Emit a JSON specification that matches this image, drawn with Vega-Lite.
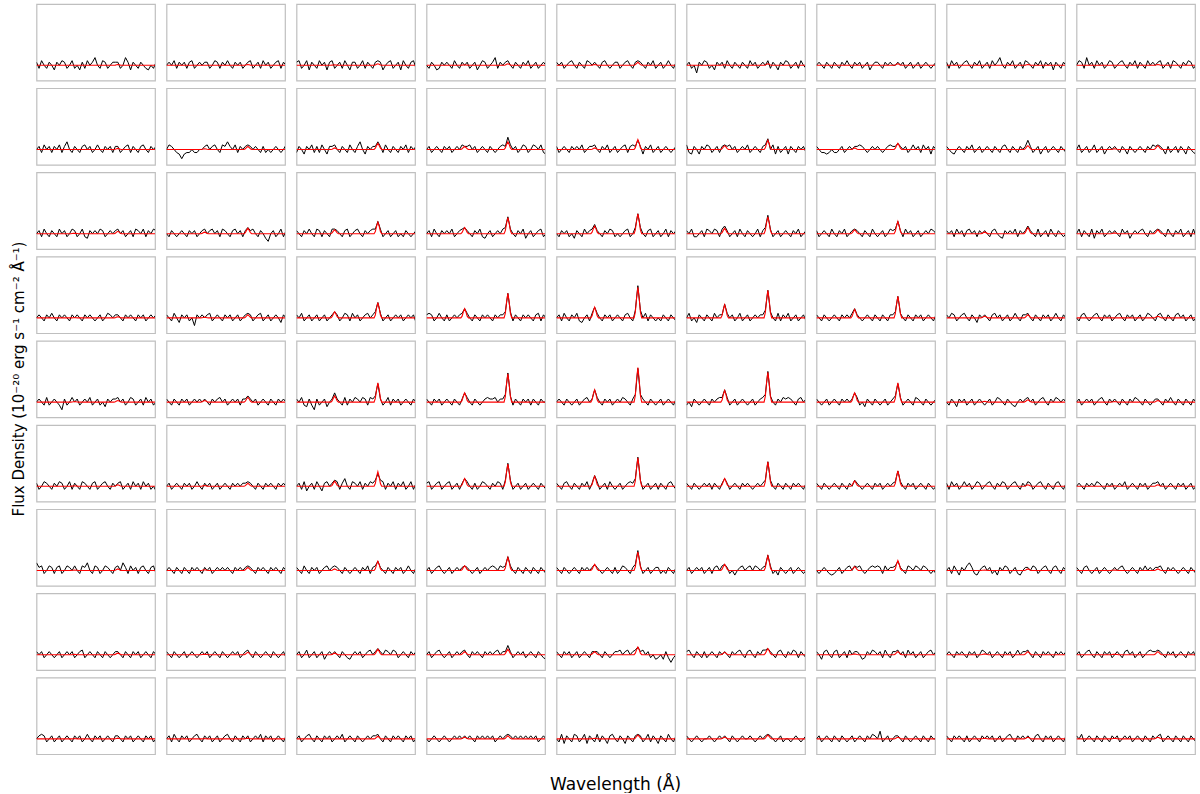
{
"$schema":"https://vega.github.io/schema/vega-lite/v6.json",
"background":"white",
"bounds":"flush",
"padding":{"left":10.5,"top":3,"right":0,"bottom":0},
"datasets":{
"grid":[{"k":1,"x":[0,1,2,3,4,5,6,7,8,9,10,11,12,13,14,15,16,17,18,19,20,21,22,23,24,25,26,27,28,29,30,31,32,33,34,35,36,37,38,39,40,41,42,43,44,45,46,47],"mx":[0,13.5,14,14.5,15,15.5,16,16.5,30.5,31,31.5,32,32.5,33,33.5,47]}],
"spectra":[
{"k":1,"r":1,"c":1,"y":[2,-2,3,0,-2,2,0,-3,2,0,3,2,-2,0,3,-2,0,-3,2,-2,3,0,2,5,0,-2,3,2,-2,0,2,2,2,-2,0,5,2,-3,2,0,-2,2,0,-2,-3,0,-2,2],"my":[0,0,0,0,0,0,0,0,0,0.1,0.3,0.5,0.3,0.1,0,0]},
{"k":1,"r":1,"c":2,"y":[0,2,0,3,-2,2,0,2,-2,2,3,-2,0,2,0,2,2,-2,0,3,2,-2,2,0,3,0,-2,2,0,2,-2,0,2,3,-2,0,2,-2,3,0,2,-2,0,2,3,-2,2,0],"my":[0,0,0,0,0,0,0,0,0,0.1,0.3,0.5,0.3,0.1,0,0]},
{"k":1,"r":1,"c":3,"y":[2,3,-2,0,3,-3,2,0,-2,3,0,2,-3,2,3,-2,0,2,-2,3,0,-3,2,2,-2,0,3,-2,2,0,-2,2,3,2,-3,0,2,3,-2,0,2,-3,3,0,-2,2,3,-2],"my":[0,0,0.1,0.2,0.3,0.2,0.1,0,0,0.2,0.7,1,0.7,0.2,0,0]},
{"k":1,"r":1,"c":4,"y":[0,-2,2,0,-3,-2,2,0,2,0,-2,3,0,-2,2,0,2,-2,0,2,-3,0,3,2,-2,0,2,5,-2,2,0,2,3,0,-2,2,0,-2,2,0,3,-2,0,2,-2,0,2,0],"my":[0,0,0.1,0.2,0.3,0.2,0.1,0,0,0.2,0.7,1,0.7,0.2,0,0]},
{"k":1,"r":1,"c":5,"y":[2,0,2,-2,0,2,3,0,-2,2,0,-2,3,2,0,2,0,-2,2,3,0,-2,0,2,2,-2,0,2,3,0,-2,2,3,2,0,-2,2,0,3,-2,0,2,-2,0,3,0,-2,2],"my":[0,0,0.1,0.3,0.5,0.3,0.1,0,0,0.4,1.3,2,1.3,0.4,0,0]},
{"k":1,"r":1,"c":6,"y":[0,2,-2,0,-5,2,0,3,2,-2,0,-3,2,0,2,-2,3,0,-2,2,0,-2,2,0,-2,3,0,2,-2,0,2,0,3,-2,2,0,-3,2,0,3,2,-2,0,2,-2,3,0,-2],"my":[0,0,0.1,0.2,0.3,0.2,0.1,0,0,0.2,0.7,1,0.7,0.2,0,0]},
{"k":1,"r":1,"c":7,"y":[0,2,0,-2,2,0,-2,2,0,-2,2,0,3,0,-2,2,0,2,-2,0,2,-3,0,2,2,0,-2,2,0,2,0,0,2,0,2,-2,0,2,-2,0,2,-2,0,2,0,-2,0,2],"my":[0,0,0,0,0,0,0,0,0,0.2,0.7,1,0.7,0.2,0,0]},
{"k":1,"r":1,"c":8,"y":[2,-2,3,0,2,-2,0,2,3,0,-2,2,0,3,-2,0,2,-2,3,0,2,5,0,-2,2,0,3,-2,0,2,-2,3,2,0,-2,2,0,3,-2,2,0,2,-3,2,0,-2,2,0],"my":[0,0,0,0,0,0,0,0,0,0.1,0.3,0.5,0.3,0.1,0,0]},
{"k":1,"r":1,"c":9,"y":[0,3,2,-2,5,0,2,-2,3,0,2,-2,0,3,2,-2,0,2,3,0,-2,2,0,3,-2,2,0,-2,3,0,2,0,2,3,-2,0,2,-2,3,2,0,-2,2,0,3,2,-2,0],"my":[0,0,0,0,0,0,0,0,0,0.1,0.3,0.5,0.3,0.1,0,0]},
{"k":1,"r":2,"c":1,"y":[0,2,-2,3,0,2,-2,2,0,3,-2,2,5,0,-2,2,0,-2,2,3,0,2,-2,0,3,0,-2,2,0,2,-2,2,2,-2,0,2,3,-2,2,0,-2,2,3,0,-2,2,0,2],"my":[0,0,0,0,0,0,0,0,0,0.1,0.5,0.7,0.5,0.1,0,0]},
{"k":1,"r":2,"c":2,"y":[0,3,2,0,-2,-3,-6,-3,-2,-2,0,-2,-2,0,0,2,3,0,2,3,0,-2,3,2,5,2,0,3,-2,2,0,2,3,2,0,2,0,-2,2,-2,0,-2,0,2,0,-2,0,3],"my":[0,0,0.1,0.3,0.5,0.3,0.1,0,0,0.4,1.3,2,1.3,0.4,0,0]},
{"k":1,"r":2,"c":3,"y":[-2,2,0,-3,2,0,3,-2,2,-2,3,0,-3,2,2,3,0,-2,2,0,-2,3,0,-2,2,5,0,-3,2,0,2,2,5,2,-2,3,0,-2,2,0,-2,2,0,3,-2,2,0,2],"my":[0,0,0.2,0.7,1,0.7,0.2,0,0,0.8,2.6,4,2.6,0.8,0,0]},
{"k":1,"r":2,"c":4,"y":[0,2,-2,0,2,0,-2,2,0,2,-2,0,2,0,3,2,2,3,0,2,-2,0,2,0,-2,2,0,-2,0,2,3,2,8,3,0,2,-2,0,3,2,-2,0,3,2,0,3,-2,-3],"my":[0,0,0.4,1.3,2,1.3,0.4,0,0,1,3.3,5,3.3,1,0,0]},
{"k":1,"r":2,"c":5,"y":[2,-2,0,2,0,-2,2,0,2,0,3,-2,0,2,2,3,0,-2,2,0,3,-2,0,2,-2,0,2,3,-2,2,3,2,6,2,-3,2,0,3,-2,0,2,-2,0,2,0,-2,0,2],"my":[0,0,0.2,0.7,1,0.7,0.2,0,0,1.2,4.3,6.5,4.3,1.2,0,0]},
{"k":1,"r":2,"c":6,"y":[3,-2,-3,2,0,-3,2,0,3,2,-2,0,2,-2,2,3,2,3,0,2,-2,0,2,0,3,-2,0,2,0,-2,2,3,7,0,3,-3,2,-2,0,2,-3,2,0,-2,2,0,2,-2],"my":[0,0,0.5,1.7,2.5,1.7,0.5,0,0,1.1,4,6,4,1.1,0,0]},
{"k":1,"r":2,"c":7,"y":[2,0,-2,-2,-3,-2,0,-2,-2,0,2,-2,0,2,0,2,2,3,2,0,-2,0,2,0,2,0,-2,0,2,3,2,2,4,2,0,2,-2,0,3,0,2,-2,3,0,2,-3,2,0],"my":[0,0,0.2,0.7,1,0.7,0.2,0,0,0.8,2.6,4,2.6,0.8,0,0]},
{"k":1,"r":2,"c":8,"y":[2,0,-2,-3,0,2,0,-2,2,0,3,-2,0,2,-2,0,2,0,-2,2,0,-2,2,3,0,-2,2,0,-2,2,0,2,6,2,-2,0,2,-3,0,2,-2,0,2,0,-2,2,0,-2],"my":[0,0,0,0,0,0,0,0,0,0.5,1.7,2.5,1.7,0.5,0,0]},
{"k":1,"r":2,"c":9,"y":[0,3,-2,0,2,-2,0,3,-2,0,2,-3,0,2,0,2,0,-2,2,0,-3,2,0,-2,0,2,0,-2,2,0,3,2,3,2,0,-3,2,-2,0,2,-2,2,0,-3,2,0,-2,-3],"my":[0,0,0.1,0.3,0.5,0.3,0.1,0,0,0.5,1.7,2.5,1.7,0.5,0,0]},
{"k":1,"r":3,"c":1,"y":[0,2,-2,3,0,-2,2,0,-2,3,0,2,-2,0,3,2,-2,0,3,-2,-3,2,0,2,0,3,2,-2,0,2,0,2,3,0,2,-2,0,2,-2,3,2,0,3,-2,2,0,3,2],"my":[0,0,0.1,0.2,0.3,0.2,0.1,0,0,0.3,1,1.5,1,0.3,0,0]},
{"k":1,"r":3,"c":2,"y":[0,-2,2,0,-2,0,2,0,-2,2,0,2,-2,0,2,3,0,2,3,0,2,-2,3,2,0,-2,2,3,0,2,-2,2,4,2,3,0,-2,2,0,-3,-5,0,2,-2,0,3,-2,2],"my":[0,0,0.2,0.7,1,0.7,0.2,0,0,0.7,2.3,3.5,2.3,0.7,0,0]},
{"k":1,"r":3,"c":3,"y":[2,0,-2,2,0,3,0,-2,3,2,-2,2,0,-2,3,3,2,0,-2,2,3,-2,0,2,3,0,-2,2,0,2,3,3,8,3,-2,0,2,-2,0,2,-2,0,-2,2,0,-2,0,2],"my":[0,0,0.5,1.7,2.5,1.7,0.5,0,0,1.4,5,7.5,5,1.4,0,0]},
{"k":1,"r":3,"c":4,"y":[0,2,-2,3,0,-2,2,0,2,0,3,-2,0,2,3,4,2,0,-2,2,0,3,-2,-3,0,2,-2,0,2,0,3,4,11,3,0,-2,2,0,3,-3,0,2,-2,0,2,3,-2,0],"my":[0,0,0.8,2.6,4,2.6,0.8,0,0,2,6.9,10.5,6.9,2,0,0]},
{"k":1,"r":3,"c":5,"y":[0,-2,2,0,2,-2,0,-3,2,0,-2,3,0,2,3,6,2,0,-2,2,0,3,2,-2,0,-2,0,2,3,-2,0,4,13,4,0,-2,2,3,-2,0,2,-2,0,3,-2,2,0,2],"my":[0,0,1,3.3,5,3.3,1,0,0,2.5,8.6,13,8.6,2.5,0,0]},
{"k":1,"r":3,"c":6,"y":[2,0,3,-2,-2,0,2,-2,3,2,0,3,2,-2,3,5,2,-2,0,2,-2,3,0,-2,2,0,-2,0,3,-2,2,4,12,3,-2,0,2,-2,0,2,0,-2,2,0,3,-2,0,2],"my":[0,0,0.7,2.3,3.5,2.3,0.7,0,0,2.1,7.3,11,7.3,2.1,0,0]},
{"k":1,"r":3,"c":7,"y":[2,-2,0,2,0,-2,3,0,-2,2,0,3,-2,0,2,3,2,0,-2,2,0,-2,3,0,-2,0,2,-2,0,3,2,3,8,2,-2,3,0,2,-2,0,2,-2,0,2,0,3,2,0],"my":[0,0,0.5,1.7,2.5,1.7,0.5,0,0,1.5,5.3,8,5.3,1.5,0,0]},
{"k":1,"r":3,"c":8,"y":[2,0,2,-2,3,0,2,-2,2,3,0,2,-2,2,0,2,0,-2,2,3,0,-2,-3,2,0,2,0,3,-2,2,0,2,5,2,0,-2,3,-2,0,2,-2,3,0,-2,2,0,-2,0],"my":[0,0,0.2,0.7,1,0.7,0.2,0,0,0.8,2.6,4,2.6,0.8,0,0]},
{"k":1,"r":3,"c":9,"y":[0,3,-2,2,0,-2,3,-3,2,0,3,-2,0,2,0,2,0,-2,3,0,2,-3,0,2,0,2,3,0,-2,2,0,2,3,2,0,-2,3,0,-2,2,0,3,-2,0,2,-2,3,-2],"my":[0,0,0.1,0.3,0.5,0.3,0.1,0,0,0.5,1.7,2.5,1.7,0.5,0,0]},
{"k":1,"r":4,"c":1,"y":[0,2,0,-2,2,0,3,0,-2,2,0,2,0,-2,2,0,2,0,-2,2,0,2,0,-2,0,2,-2,0,3,2,0,2,2,0,-2,2,0,2,0,-2,2,0,2,-2,0,2,0,2],"my":[0,0,0,0.1,0.2,0.1,0,0,0,0.1,0.5,0.7,0.5,0.1,0,0]},
{"k":1,"r":4,"c":2,"y":[2,0,-2,3,0,-3,2,0,2,-2,0,-5,2,0,2,0,2,3,-2,0,2,0,-2,2,0,2,-2,0,2,-2,0,2,3,2,-2,0,2,3,-2,0,2,-2,0,2,0,-3,2,0],"my":[0,0,0.1,0.3,0.5,0.3,0.1,0,0,0.4,1.3,2,1.3,0.4,0,0]},
{"k":1,"r":4,"c":3,"y":[2,0,3,-2,0,2,-2,0,2,-2,0,2,-2,0,2,4,2,-2,0,3,2,-2,3,0,2,-2,0,2,3,0,2,4,10,3,-2,0,2,-2,0,2,0,2,-2,0,2,0,2,-3],"my":[0,0,0.8,2.6,4,2.6,0.8,0,0,1.9,6.6,10,6.6,1.9,0,0]},
{"k":1,"r":4,"c":4,"y":[2,3,2,-2,0,3,0,-2,2,-2,0,2,0,2,3,6,3,0,-2,2,0,-2,2,0,2,0,-2,2,0,2,2,4,16,4,-2,2,0,-2,2,0,2,0,-2,2,3,-2,2,0],"my":[0,0,1.1,4,6,4,1.1,0,0,3,10.6,16,10.6,3,0,0]},
{"k":1,"r":4,"c":5,"y":[0,2,-2,3,0,-2,2,0,3,-2,-3,0,2,-2,3,7,3,0,-2,2,0,2,-2,0,2,0,-2,2,3,0,-2,5,21,5,0,3,-2,2,0,-2,0,-2,2,0,-2,2,0,-2],"my":[0,0,1.3,4.6,7,4.6,1.3,0,0,3.8,13.2,20,13.2,3.8,0,0]},
{"k":1,"r":4,"c":6,"y":[0,3,-2,0,-3,2,0,-2,2,0,-2,3,0,2,2,9,3,0,2,-2,0,3,-2,0,2,-2,0,2,0,2,2,5,18,4,0,-2,3,-2,2,0,3,-2,0,2,-2,0,2,-2],"my":[0,0,1.6,5.6,8.5,5.6,1.6,0,0,3.4,11.9,18,11.9,3.4,0,0]},
{"k":1,"r":4,"c":7,"y":[2,0,-2,2,0,-2,0,2,0,-2,2,0,2,0,3,6,2,0,-2,0,2,0,-2,2,0,-2,2,0,-2,2,2,4,14,3,0,-2,2,0,-2,2,0,2,-2,0,2,0,-2,2],"my":[0,0,1,3.6,5.5,3.6,1,0,0,2.7,9.2,14,9.2,2.7,0,0]},
{"k":1,"r":4,"c":8,"y":[2,0,3,2,-2,0,2,3,0,-2,2,0,-3,2,0,2,0,-2,2,3,0,2,-2,0,2,-2,0,3,0,-2,2,2,3,0,-2,2,0,-2,2,0,2,-2,0,3,0,-2,2,0],"my":[0,0,0.2,0.7,1,0.7,0.2,0,0,0.4,1.3,2,1.3,0.4,0,0]},
{"k":1,"r":4,"c":9,"y":[0,-2,2,3,0,-2,0,2,3,0,-2,2,0,2,-2,0,2,3,0,-2,2,0,2,-2,0,2,-2,0,3,2,0,-2,2,3,0,-2,2,0,-2,2,3,0,2,-2,0,2,-2,0],"my":[0,0,0,0,0,0,0,0,0,0.2,0.7,1,0.7,0.2,0,0]},
{"k":1,"r":5,"c":1,"y":[0,2,0,-2,3,-2,0,2,0,-2,-5,2,-2,0,3,0,2,-2,0,2,0,3,-2,0,2,-2,0,-3,2,0,2,2,3,0,2,-2,0,3,2,-2,0,2,-2,3,0,2,-2,0],"my":[0,0,0.1,0.2,0.3,0.2,0.1,0,0,0.2,0.7,1,0.7,0.2,0,0]},
{"k":1,"r":5,"c":2,"y":[2,0,-2,2,0,-2,2,0,2,-2,0,2,0,2,0,2,0,-2,2,0,2,3,0,2,-2,0,2,0,2,-2,2,2,4,2,0,2,-2,0,2,0,-2,2,0,-2,2,0,2,0],"my":[0,0,0.2,0.7,1,0.7,0.2,0,0,0.6,2,3,2,0.6,0,0]},
{"k":1,"r":5,"c":3,"y":[2,0,3,-2,-3,2,-2,-5,2,-2,0,2,-3,0,2,6,2,0,-2,3,-2,2,0,3,2,0,3,2,-2,3,2,4,12,2,-2,0,3,-2,2,0,2,-2,0,2,0,-2,2,0],"my":[0,0,0.8,2.6,4,2.6,0.8,0,0,2.4,8.3,12.5,8.3,2.4,0,0]},
{"k":1,"r":5,"c":4,"y":[2,0,-2,2,0,2,-2,0,2,0,-2,2,0,-2,2,6,3,0,-2,2,0,-2,0,2,3,2,2,3,0,2,2,5,19,4,-2,2,0,-2,2,0,2,-2,2,0,-2,2,0,0],"my":[0,0,1.1,4,6,4,1.1,0,0,3.5,12.2,18.5,12.2,3.5,0,0]},
{"k":1,"r":5,"c":5,"y":[0,2,0,-2,2,0,-2,0,2,-2,0,2,3,0,2,8,3,0,-2,2,0,2,-2,0,2,0,3,2,0,-2,2,5,22,5,2,0,-2,2,0,-2,0,2,-2,0,2,0,-2,2],"my":[0,0,1.5,5.3,8,5.3,1.5,0,0,4.3,14.9,22.5,14.9,4.3,0,0]},
{"k":1,"r":5,"c":6,"y":[-2,0,-3,2,0,-2,0,2,0,-2,2,0,2,3,3,8,3,-2,0,2,-2,0,2,0,-2,0,2,-2,0,2,3,5,20,4,0,-2,2,0,3,2,3,2,0,-2,2,3,0,2],"my":[0,0,1.4,5,7.5,5,1.4,0,0,3.7,12.9,19.5,12.9,3.7,0,0]},
{"k":1,"r":5,"c":7,"y":[2,0,-2,0,2,-2,0,2,0,-2,2,0,2,0,2,6,3,-2,0,-3,2,0,-2,2,0,-2,0,2,-2,0,2,4,12,3,-2,0,2,0,-2,3,2,0,-2,2,0,-2,0,2],"my":[0,0,1.1,4,6,4,1.1,0,0,2.4,8.3,12.5,8.3,2.4,0,0]},
{"k":1,"r":5,"c":8,"y":[0,-2,2,0,-3,2,0,2,-2,0,2,-2,0,2,0,-2,0,2,-2,0,3,2,0,-2,2,0,-2,-3,0,2,0,2,3,0,2,-2,0,2,3,0,-2,2,0,3,2,0,2,0],"my":[0,0,0.1,0.3,0.5,0.3,0.1,0,0,0.3,1,1.5,1,0.3,0,0]},
{"k":1,"r":5,"c":9,"y":[0,2,-2,0,2,0,2,-2,0,2,3,0,-2,2,0,2,0,-2,2,0,-2,2,0,3,2,0,-2,2,0,-2,0,2,2,0,-2,2,0,3,0,-2,2,0,-2,2,0,-2,2,0],"my":[0,0,0.1,0.2,0.3,0.2,0.1,0,0,0.2,0.7,1,0.7,0.2,0,0]},
{"k":1,"r":6,"c":1,"y":[2,-2,0,3,2,0,-2,2,0,3,2,-2,0,3,-2,2,0,-2,3,2,0,-2,2,3,-2,0,2,3,0,-2,2,0,2,3,-2,0,2,-2,3,0,2,-2,3,0,2,-2,0,-3],"my":[0,0,0.1,0.2,0.3,0.2,0.1,0,0,0.2,0.7,1,0.7,0.2,0,0]},
{"k":1,"r":6,"c":2,"y":[0,2,-2,0,2,0,-2,2,0,2,-2,0,3,0,-2,2,0,2,-2,0,2,-2,0,2,0,-2,2,0,2,0,2,2,3,2,0,-2,2,0,-2,2,0,2,0,-2,2,0,2,0],"my":[0,0,0.1,0.3,0.5,0.3,0.1,0,0,0.4,1.3,2,1.3,0.4,0,0]},
{"k":1,"r":6,"c":3,"y":[0,2,-2,3,-3,0,2,-2,3,0,-3,2,3,0,2,4,3,-2,2,5,0,-2,3,2,0,3,-2,2,0,3,2,4,8,4,3,-2,2,0,3,-2,2,0,3,-2,0,3,-2,2],"my":[0,0,0.6,2.2,3.3,2.2,0.6,0,0,1.8,6.3,9.5,6.3,1.8,0,0]},
{"k":1,"r":6,"c":4,"y":[2,3,-2,0,2,3,-2,0,2,3,-2,0,2,-2,2,5,3,0,-2,2,-2,0,3,2,0,-2,2,0,3,2,-2,4,15,4,-2,0,2,-2,0,2,-2,0,2,0,-2,2,0,-2],"my":[0,0,1,3.3,5,3.3,1,0,0,2.8,9.6,14.5,9.6,2.8,0,0]},
{"k":1,"r":6,"c":5,"y":[2,0,-2,2,3,0,-2,2,0,-2,2,0,3,-2,2,7,3,-2,0,2,-2,3,0,-2,0,2,-2,0,2,3,2,5,19,4,-2,0,2,-2,0,2,-2,2,0,-2,2,3,0,-2],"my":[0,0,1.2,4.3,6.5,4.3,1.2,0,0,3.5,12.2,18.5,12.2,3.5,0,0]},
{"k":1,"r":6,"c":6,"y":[2,0,-2,2,0,-2,0,2,0,2,-2,2,0,-2,2,5,2,-2,0,2,0,-2,2,0,2,0,-2,0,2,0,2,4,16,4,0,-2,2,0,-2,2,0,-2,2,0,2,0,-2,2],"my":[0,0,1,3.3,5,3.3,1,0,0,3,10.6,16,10.6,3,0,0]},
{"k":1,"r":6,"c":7,"y":[2,0,-2,2,0,-2,0,2,0,-2,2,0,-2,2,0,4,2,0,-2,0,2,0,-2,2,0,2,-2,0,2,0,2,3,10,3,0,-2,2,0,2,-2,0,2,0,-2,2,0,-2,0],"my":[0,0,0.7,2.3,3.5,2.3,0.7,0,0,1.9,6.6,10,6.6,1.9,0,0]},
{"k":1,"r":6,"c":8,"y":[2,-2,3,0,2,-2,0,3,0,2,-2,0,3,2,-2,0,2,3,0,-2,2,0,3,2,-2,0,2,3,0,-2,2,0,3,2,-2,0,2,3,0,-2,2,0,-2,2,3,0,-2,2],"my":[0,0,0.1,0.2,0.3,0.2,0.1,0,0,0.2,0.7,1,0.7,0.2,0,0]},
{"k":1,"r":6,"c":9,"y":[0,2,0,-2,2,0,2,0,3,2,0,-2,2,0,2,-2,0,2,0,3,-2,0,2,0,-2,2,0,2,-2,0,2,2,3,0,2,-2,0,2,0,-2,2,0,2,-2,0,2,-2,0],"my":[0,0,0.1,0.2,0.3,0.2,0.1,0,0,0.2,0.7,1,0.7,0.2,0,0]},
{"k":1,"r":7,"c":1,"y":[5,2,3,-2,0,3,2,-2,2,3,-2,0,3,2,0,3,0,-2,3,2,5,0,-2,3,2,-2,0,3,2,0,-2,2,3,0,5,2,-2,3,0,2,-2,2,3,0,-2,2,3,-2],"my":[0,0,0.1,0.2,0.3,0.2,0.1,0,0,0.2,0.7,1,0.7,0.2,0,0]},
{"k":1,"r":7,"c":2,"y":[0,2,0,-2,2,0,-2,2,0,-2,2,0,2,0,-2,2,0,2,-2,0,2,0,2,0,2,0,-2,2,0,2,0,2,3,2,0,-2,2,0,2,0,-2,2,0,2,0,-2,2,0],"my":[0,0,0.1,0.3,0.5,0.3,0.1,0,0,0.4,1.3,2,1.3,0.4,0,0]},
{"k":1,"r":7,"c":3,"y":[2,0,-2,3,0,-2,2,0,2,-2,0,2,3,0,2,3,2,0,-2,2,0,-2,0,2,0,-2,2,0,3,-2,2,3,6,2,0,-2,2,0,-2,2,0,2,-2,0,3,0,-2,2],"my":[0,0,0.2,0.7,1,0.7,0.2,0,0,1.1,4,6,4,1.1,0,0]},
{"k":1,"r":7,"c":4,"y":[0,2,-2,0,2,3,0,-2,0,2,-2,0,2,0,2,3,2,0,-2,0,2,-2,0,2,0,2,3,2,0,3,2,3,9,3,0,-2,2,0,-2,2,0,-2,2,0,-2,2,0,-2],"my":[0,0,0.6,2,3,2,0.6,0,0,1.6,5.6,8.5,5.6,1.6,0,0]},
{"k":1,"r":7,"c":5,"y":[2,0,-2,2,0,-2,0,2,0,-2,2,0,2,0,2,4,2,0,-2,0,2,0,-2,2,-2,0,3,2,0,-2,2,4,13,3,-2,0,2,-2,0,2,2,-2,0,-2,2,0,-2,2],"my":[0,0,0.8,2.6,4,2.6,0.8,0,0,2.3,7.9,12,7.9,2.3,0,0]},
{"k":1,"r":7,"c":6,"y":[0,2,-2,0,2,0,2,-2,0,2,-2,2,3,0,3,4,2,-2,0,-3,0,2,3,0,2,3,0,3,2,0,2,3,10,3,-2,0,-3,2,0,-2,0,2,-2,0,2,0,-2,0],"my":[0,0,0.8,2.6,4,2.6,0.8,0,0,1.8,6.3,9.5,6.3,1.8,0,0]},
{"k":1,"r":7,"c":7,"y":[0,-2,0,2,0,-2,-3,-2,0,2,-2,0,2,3,0,3,2,3,0,-2,0,2,3,2,3,2,-2,3,0,2,2,3,6,2,0,-2,3,2,0,3,2,0,3,2,0,-2,0,-2],"my":[0,0,0.5,1.7,2.5,1.7,0.5,0,0,1.2,4.3,6.5,4.3,1.2,0,0]},
{"k":1,"r":7,"c":8,"y":[0,2,-2,3,0,-3,2,0,3,5,2,-2,-3,0,2,3,0,2,-2,0,-3,2,0,3,2,-2,0,2,-2,-3,0,2,2,0,3,2,-2,0,2,3,0,-2,2,3,0,-2,2,0],"my":[0,0,0.1,0.2,0.3,0.2,0.1,0,0,0.2,0.7,1,0.7,0.2,0,0]},
{"k":1,"r":7,"c":9,"y":[2,0,-2,2,3,0,-2,0,2,-2,0,2,0,-2,0,2,0,2,3,0,-2,0,2,0,-2,2,0,3,0,2,0,2,2,3,0,-2,2,0,2,0,-2,0,2,0,-2,2,0,-2],"my":[0,0,0.1,0.2,0.3,0.2,0.1,0,0,0.2,0.7,1,0.7,0.2,0,0]},
{"k":1,"r":8,"c":1,"y":[2,0,2,-2,0,2,0,-2,0,2,-2,0,2,0,2,-2,0,2,3,-2,0,2,0,-2,2,0,-2,2,0,-2,0,2,2,0,-2,2,0,-2,2,0,2,-2,0,2,0,-2,2,0],"my":[0,0,0,0.1,0.2,0.1,0,0,0,0.2,0.7,1,0.7,0.2,0,0]},
{"k":1,"r":8,"c":2,"y":[2,0,-2,2,0,-2,0,2,-2,0,2,0,-2,0,2,0,2,-2,0,2,0,-2,2,0,-2,0,2,0,2,-2,0,2,3,0,-2,2,0,-2,0,2,0,-2,2,0,-2,0,2,-2],"my":[0,0,0.1,0.2,0.3,0.2,0.1,0,0,0.3,1,1.5,1,0.3,0,0]},
{"k":1,"r":8,"c":3,"y":[0,2,-2,0,3,-2,0,2,-2,0,2,-3,0,2,0,2,0,-2,2,0,-2,-3,0,2,0,2,-2,0,2,3,0,2,4,2,0,3,2,0,3,2,-2,0,2,0,-2,2,0,2],"my":[0,0,0.2,0.7,1,0.7,0.2,0,0,0.7,2.3,3.5,2.3,0.7,0,0]},
{"k":1,"r":8,"c":4,"y":[0,2,-2,0,2,3,0,-2,0,2,-2,0,2,0,2,3,0,-2,2,0,2,0,-2,2,0,2,0,2,3,0,2,2,6,2,-2,0,2,0,2,-2,0,2,0,-2,2,0,-2,-3],"my":[0,0,0.4,1.3,2,1.3,0.4,0,0,0.7,2.3,3.5,2.3,0.7,0,0]},
{"k":1,"r":8,"c":5,"y":[2,0,-2,2,0,2,-2,0,2,-2,0,2,0,-2,2,2,2,0,-2,2,0,-2,0,2,2,3,0,2,3,0,2,3,5,2,3,0,2,-2,0,-3,-2,0,-3,2,-2,-5,-2,0],"my":[0,0,0.4,1.3,2,1.3,0.4,0,0,1,3.3,5,3.3,1,0,0]},
{"k":1,"r":8,"c":6,"y":[2,3,0,-2,2,0,-2,2,-2,0,2,0,-2,2,0,2,0,-2,2,0,2,3,0,-2,2,3,0,-2,2,0,3,3,4,2,0,-2,2,3,0,-2,2,0,3,2,-2,2,0,-2],"my":[0,0,0.3,1,1.5,1,0.3,0,0,0.8,2.6,4,2.6,0.8,0,0]},
{"k":1,"r":8,"c":7,"y":[2,0,-3,2,3,0,-2,2,3,-2,0,2,-2,3,0,2,2,0,-3,-2,2,0,3,2,0,2,-2,3,0,-2,2,2,3,0,2,-2,3,0,2,-2,0,2,-2,0,2,3,0,2],"my":[0,0,0.1,0.3,0.5,0.3,0.1,0,0,0.4,1.3,2,1.3,0.4,0,0]},
{"k":1,"r":8,"c":8,"y":[0,2,0,-2,2,0,2,0,-2,2,0,2,-2,0,3,2,0,2,-2,0,2,0,-2,2,0,2,-2,0,3,0,2,2,3,0,-2,2,0,-2,2,0,2,0,-2,2,0,2,0,2],"my":[0,0,0.1,0.3,0.5,0.3,0.1,0,0,0.4,1.3,2,1.3,0.4,0,0]},
{"k":1,"r":8,"c":9,"y":[0,2,-2,0,2,3,0,-2,2,0,-2,2,0,2,-2,0,2,0,-2,2,3,0,2,-2,0,2,-2,0,2,3,2,2,3,2,0,-2,2,0,2,-2,0,2,0,-2,2,0,2,-2],"my":[0,0,0.1,0.2,0.3,0.2,0.1,0,0,0.4,1.3,2,1.3,0.4,0,0]},
{"k":1,"r":9,"c":1,"y":[0,2,3,2,-2,0,2,-2,0,2,-2,0,2,0,-2,2,0,2,-2,0,3,0,-2,2,0,2,-2,0,2,0,-2,2,2,0,-2,2,0,2,-2,0,2,0,-2,2,0,2,-2,0],"my":[0,0,0,0.1,0.2,0.1,0,0,0,0.1,0.3,0.5,0.3,0.1,0,0]},
{"k":1,"r":9,"c":2,"y":[0,2,-2,3,0,-2,2,0,2,-2,0,2,3,0,-2,2,0,2,-2,0,2,-2,0,2,3,0,-2,2,0,-2,2,0,2,-2,0,2,0,3,-2,2,0,2,-2,0,2,0,-2,2],"my":[0,0,0,0.1,0.2,0.1,0,0,0,0.1,0.3,0.5,0.3,0.1,0,0]},
{"k":1,"r":9,"c":3,"y":[0,2,-2,0,2,3,0,-2,2,0,-2,2,0,2,-2,0,2,0,3,-2,0,2,0,-2,2,0,-2,0,2,0,2,2,3,0,-2,2,0,-2,2,0,2,0,-2,2,0,2,-2,0],"my":[0,0,0,0,0,0,0,0,0,0.3,1.1,1.7,1.1,0.3,0,0]},
{"k":1,"r":9,"c":4,"y":[0,-2,0,2,0,-2,0,2,0,-2,0,2,0,2,0,2,0,2,0,-2,2,0,2,0,2,0,2,-2,0,2,0,2,3,2,0,2,0,2,0,2,0,2,0,2,-2,0,2,0],"my":[0,0,0.2,0.7,1,0.7,0.2,0,0,0.4,1.3,2,1.3,0.4,0,0]},
{"k":1,"r":9,"c":5,"y":[0,-2,3,-3,2,0,-2,3,2,-2,0,3,-3,2,0,-2,3,-2,2,0,-3,2,3,0,-2,2,0,-3,2,0,-2,2,3,2,-2,0,3,-2,2,0,-3,2,0,-2,3,0,-2,2],"my":[0,0,0.1,0.2,0.3,0.2,0.1,0,0,0.5,1.7,2.5,1.7,0.5,0,0]},
{"k":1,"r":9,"c":6,"y":[2,0,-2,0,2,0,-2,0,0,2,0,-2,0,2,0,2,0,-2,2,0,-2,0,2,0,0,2,0,-2,0,2,0,2,3,2,0,-2,0,2,-2,0,0,-2,0,2,0,-2,0,2],"my":[0,0,0.2,0.7,1,0.7,0.2,0,0,0.5,1.7,2.5,1.7,0.5,0,0]},
{"k":1,"r":9,"c":7,"y":[0,2,-2,0,2,0,-2,2,0,-2,2,0,-2,0,2,-2,0,2,0,-2,2,0,3,2,0,5,-2,0,2,-2,0,2,2,0,-2,2,0,-2,0,2,0,-2,2,0,-2,2,0,0],"my":[0,0,0.1,0.2,0.3,0.2,0.1,0,0,0.2,0.7,1,0.7,0.2,0,0]},
{"k":1,"r":9,"c":8,"y":[2,0,-2,2,0,2,0,-2,2,-2,0,2,0,-2,2,0,2,0,2,-2,0,2,-2,0,2,3,0,-2,2,0,2,0,2,0,-2,2,3,0,-2,2,0,2,-2,0,2,0,-2,2],"my":[0,0,0.1,0.2,0.3,0.2,0.1,0,0,0.2,0.7,1,0.7,0.2,0,0]},
{"k":1,"r":9,"c":9,"y":[2,0,3,-2,0,2,0,-2,2,0,-2,2,0,-2,2,0,2,-2,0,2,0,2,-2,0,2,0,-2,2,0,-2,2,0,2,3,-2,0,2,0,-2,2,0,-2,2,0,-2,2,0,-2],"my":[0,0,0.1,0.2,0.3,0.2,0.1,0,0,0.2,0.7,1,0.7,0.2,0,0]}
]},
"data":{"name":"spectra"},
"transform":[{"lookup":"k","from":{"data":{"name":"grid"},"key":"k","fields":["x","mx"]}}],
"facet":{
"row":{"field":"r","type":"ordinal","header":{"labels":false,"title":"Flux Density (10⁻²⁰ erg s⁻¹ cm⁻² Å⁻¹)","titleFont":"DejaVu Sans","titleFontSize":15,"titleFontWeight":"normal","titleColor":"#000000","titlePadding":0}},
"column":{"field":"c","type":"ordinal","header":{"labels":false,"labelOrient":"bottom","titleOrient":"bottom","title":"Wavelength (Å)","titleFont":"DejaVu Sans","titleFontSize":17,"titleFontWeight":"normal","titleColor":"#000000","titlePadding":12}}
},
"spacing":{"row":7.2,"column":11},
"spec":{
"width":118.5,"height":76.6,
"layer":[
{"transform":[{"flatten":["x","y"]}],"mark":{"type":"line","color":"#000000","strokeWidth":1,"clip":true},
"encoding":{"x":{"field":"x","type":"quantitative","scale":{"domain":[0,46.6],"nice":false,"zero":false},"axis":null},
"y":{"field":"y","type":"quantitative","scale":{"domain":[-10,40],"nice":false,"zero":false},"axis":null}}},
{"transform":[{"flatten":["mx","my"]}],"mark":{"type":"line","color":"#ff0000","strokeWidth":1.1,"clip":true},
"encoding":{"x":{"field":"mx","type":"quantitative","scale":{"domain":[0,46.6],"nice":false,"zero":false},"axis":null},
"y":{"field":"my","type":"quantitative","scale":{"domain":[-10,40],"nice":false,"zero":false},"axis":null}}}
]},
"config":{"view":{"stroke":"#bfbfbf","strokeWidth":1.2}}
}
